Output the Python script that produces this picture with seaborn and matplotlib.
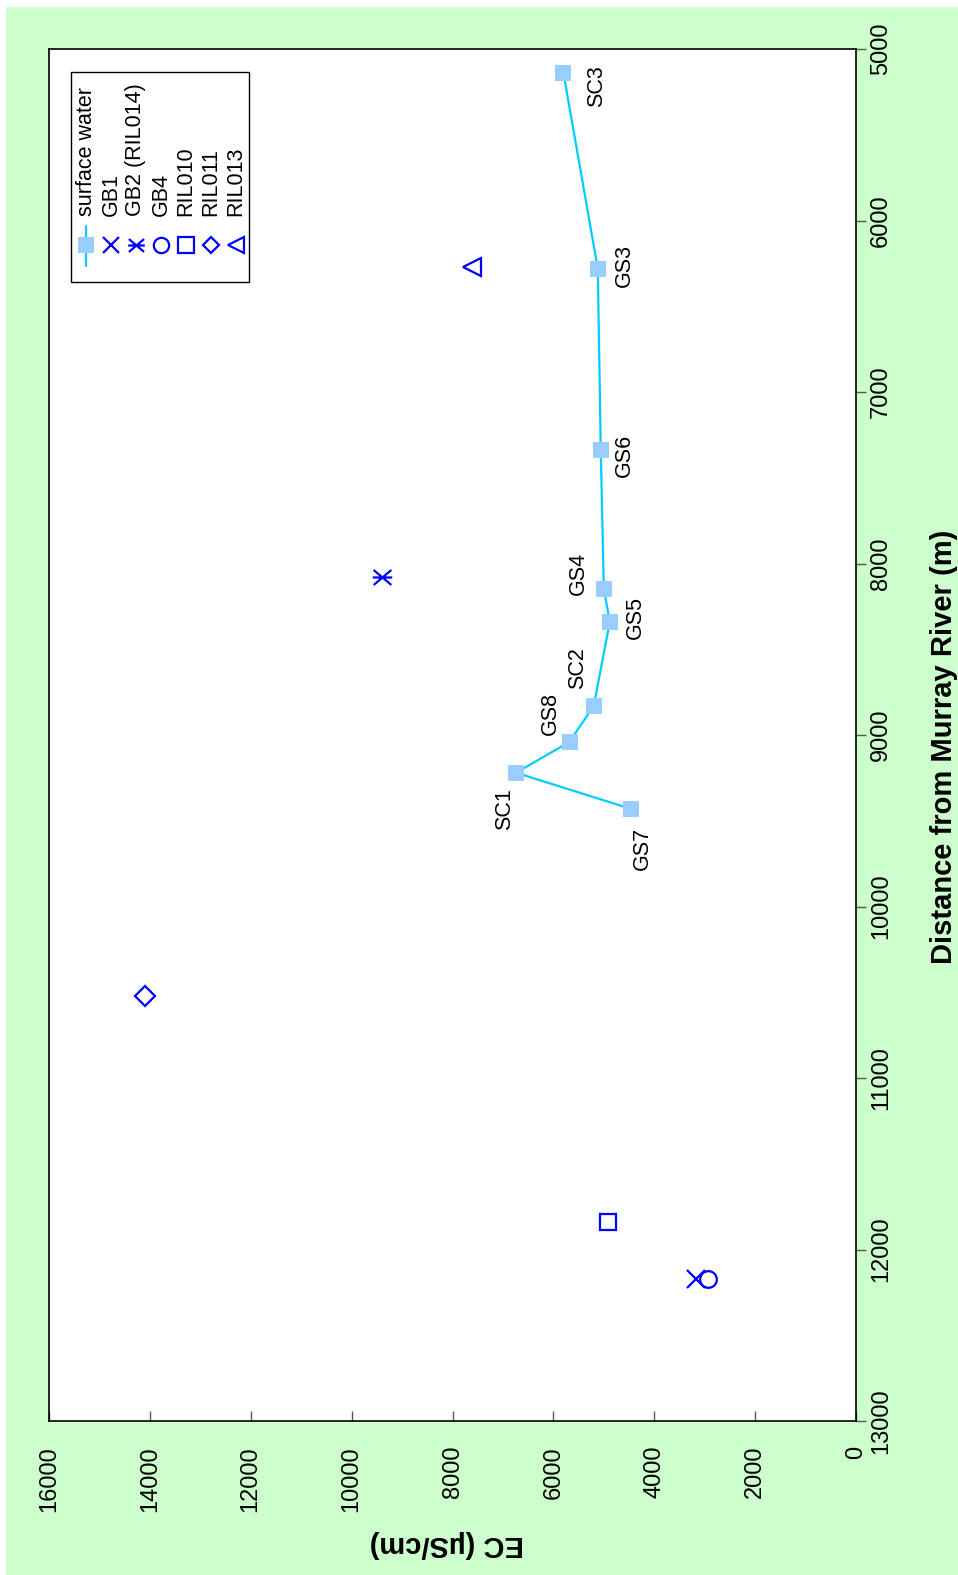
import matplotlib
matplotlib.use("Agg")
import matplotlib.pyplot as plt
from matplotlib.patches import Rectangle
from matplotlib.path import Path
import seaborn as sns
import pandas as pd

# Surface water sites, ordered by distance from the river
sw_sites = ["SC3", "GS3", "GS6", "GS4", "GS5", "SC2", "GS8", "SC1", "GS7"]
sw_distance = [5140, 6280, 7340, 8150, 8340, 8830, 9040, 9220, 9430]
sw_ec = [5800, 5120, 5060, 5000, 4880, 5200, 5680, 6740, 4470]

# Bores
bore_names = ["GB1", "GB2 (RIL014)", "GB4", "RIL010", "RIL011", "RIL013"]
bore_distance = [12170, 8080, 12170, 11840, 10520, 6270]
bore_ec = [3170, 9400, 2930, 4920, 14090, 7610]

dist_ticks = [5000, 6000, 7000, 8000, 9000, 10000, 11000, 12000, 13000]
ec_ticks = [0, 2000, 4000, 6000, 8000, 10000, 12000, 14000, 16000]

# label offsets (pixels) for the surface water site names
label_offsets = {
    "SC3": (33, 13), "GS3": (27, -3), "GS6": (24, 5), "GS4": (-25, -16),
    "GS5": (26, -4), "SC2": (-16, -38), "GS8": (-19, -28), "SC1": (-11, 36),
    "GS7": (12, 40),
}

sns.set_theme(style="white")
plt.rcParams["font.family"] = ["Liberation Sans", "DejaVu Sans"]
plt.rcParams["text.color"] = "black"
plt.rcParams["xtick.labelcolor"] = "black"
plt.rcParams["ytick.labelcolor"] = "black"

W, H = 958, 1575
fig = plt.figure(figsize=(W / 100, H / 100), dpi=100, facecolor="white")
fig.patches.append(Rectangle((6 / W, 0), 1, 1 - 7 / H, transform=fig.transFigure,
                             facecolor="#CCFFCC", edgecolor="none", zorder=-10))

ax = fig.add_axes([49 / W, 1 - 1421 / H, (856 - 49) / W, (1421 - 49) / H])
ax.set_facecolor("white")

sw = pd.DataFrame({"site": sw_sites, "distance": sw_distance, "ec": sw_ec})

line_color = "#00CCFF"
sq_color = "#99CCFF"
bore_color = "#0000FF"

sns.lineplot(data=sw, x="ec", y="distance", sort=False, estimator=None,
             color=line_color, linewidth=1.6, marker="s", markersize=12,
             markerfacecolor=sq_color, markeredgecolor=sq_color,
             markeredgewidth=0, ax=ax, zorder=3)

# asterisk with a horizontal bar
star_path = Path([(-1, -0.85), (1, 0.85), (-1, 0.85), (1, -0.85), (-1.1, 0), (1.1, 0)],
                 [Path.MOVETO, Path.LINETO, Path.MOVETO, Path.LINETO,
                  Path.MOVETO, Path.LINETO])
bore_markers = ["x", star_path, "o", "s", "D", "<"]
bore_sizes = [13, 14, 12, 12, 10, 13]
legend_sizes = [12, 12, 11, 11, 8.5, 12]

for name, d, e, m, ms in zip(bore_names, bore_distance, bore_ec, bore_markers, bore_sizes):
    sns.lineplot(x=[e], y=[d], sort=False, estimator=None, linestyle="",
                 marker=m, markersize=ms, color=bore_color,
                 markerfacecolor="none", markeredgecolor=bore_color,
                 markeredgewidth=1.6, ax=ax, zorder=4)

ax.set_xlim(16000, 0)
ax.set_ylim(13000, 5000)
ax.set_xticks(ec_ticks)
ax.set_yticks(dist_ticks)
ax.set_xlabel("")
ax.set_ylabel("")
ax.yaxis.tick_right()

for s in ax.spines.values():
    s.set_color("black")
    s.set_linewidth(1.2)
    s.set_visible(True)

ax.tick_params(axis="x", direction="in", length=7, width=1, color="#555555",
               labelsize=17, pad=18, bottom=True, labelcolor="black")
ax.tick_params(axis="y", direction="out", length=7, width=1, color="#555555",
               labelsize=17, pad=3, right=True, left=False, labelcolor="black")
ax.set_xticklabels([str(t) for t in ec_ticks], rotation=90, ha="center", va="top")
ax.set_yticklabels([str(t) for t in dist_ticks], rotation=90, ha="left", va="center")

# site names
for name, d, e in zip(sw_sites, sw_distance, sw_ec):
    dx, dy = label_offsets[name]
    ax.annotate(name, (e, d), xytext=(dx * 0.72, -dy * 0.72), textcoords="offset points",
                rotation=90, ha="center", va="center", fontsize=15.5, color="black",
                zorder=5)

# axis titles
fig.text(944 / W, 1 - 747 / H, "Distance from Murray River (m)", rotation=90,
         ha="center", va="center", fontsize=21, fontweight="bold", color="black")
fig.text(447 / W, 1 - 1544 / H, "EC (\u00b5S/cm)", rotation=180,
         ha="center", va="center", fontsize=21, fontweight="bold", color="black")

# legend drawn as a rotated column list
def fx(px):
    return (px - 49) / (856 - 49)

def fy(py):
    return 1 - (py - 49) / (1421 - 49)

ax.add_patch(Rectangle((fx(71), fy(282)), fx(249) - fx(71), fy(72) - fy(282),
                       transform=ax.transAxes, facecolor="white", edgecolor="black",
                       linewidth=1.0, zorder=6))
legend_labels = ["surface water"] + bore_names
col_x = [86, 111, 136, 161, 186, 211, 236]
for i, (lab, cx) in enumerate(zip(legend_labels, col_x)):
    ax.text(fx(cx), fy(216), lab, transform=ax.transAxes, rotation=90,
            rotation_mode="anchor", ha="left", va="center", fontsize=15.5,
            color="black", zorder=7)
    if i == 0:
        ax.plot([fx(cx), fx(cx)], [fy(226), fy(266)], transform=ax.transAxes,
                color=line_color, linewidth=1.6, zorder=7)
        ax.plot([fx(cx)], [fy(245)], transform=ax.transAxes, marker="s",
                markersize=12, color=sq_color, markeredgewidth=0, zorder=8)
    else:
        ax.plot([fx(cx)], [fy(245)], transform=ax.transAxes, marker=bore_markers[i - 1],
                markersize=legend_sizes[i - 1], color=bore_color, markerfacecolor="none",
                markeredgecolor=bore_color, markeredgewidth=1.6, linestyle="", zorder=8)

fig.savefig("out.png", dpi=100, facecolor=fig.get_facecolor())
